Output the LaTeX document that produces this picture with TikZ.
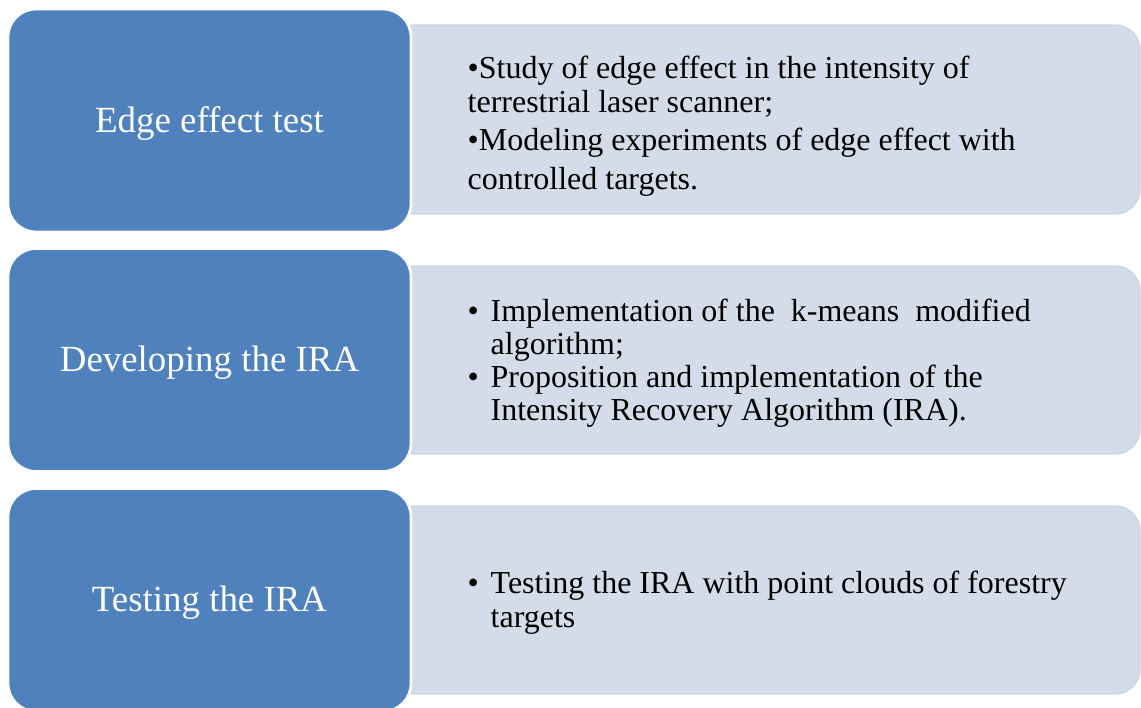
\documentclass[tikz,border=0pt]{standalone}
\usepackage{fontspec}
\setmainfont{Liberation Serif}

\begin{document}
\begin{tikzpicture}[
    stage/.style={draw=white, line width=0.8pt, fill=stage_blue, rounded corners=0.28cm,
        minimum width=4.03cm, minimum height=2.23cm, inner sep=0pt, text=white,
        text height=0.27cm, text depth=0.037cm,
        font=\fontsize{10.5}{12.6}\selectfont},
    detail/.style={fill=detail_grey, draw=detail_edge, line width=0.4pt, rounded corners=0.25cm},
    items/.style={anchor=west, align=left, inner sep=0pt, text=black,
        font=\fontsize{9.1}{9.67}\selectfont}
]
    \definecolor{stage_blue}{HTML}{4F81BD}
    \definecolor{detail_grey}{HTML}{D5DCE9}
    \definecolor{detail_edge}{HTML}{CCD5E6}
    %\draw[help lines] (0,0) grid (11.41,7.08);
    \useasboundingbox (0,0) rectangle (11.41,7.08);
    \clip (0,0) rectangle (11.41,7.08);

    \path[detail] (3.90,6.83) rectangle (11.40,4.94);
    \path[detail] (3.90,4.42) rectangle (11.40,2.54);
    \path[detail] (3.90,2.02) rectangle (11.40,0.14);

    \node[stage] (edge) at (2.095,5.875) {Edge effect test};
    \node[stage] (develop) at (2.095,3.48) {Developing the IRA};
    \node[stage] (testing) at (2.095,1.08) {Testing the IRA};

    \node[items] (edgeitems) at (4.67,5.82) {
        •Study of edge effect in the intensity of\\
        terrestrial laser scanner;\\[0.045cm]
        •Modeling experiments of edge effect with\\[0.045cm]
        controlled targets.
    };
    \node[items, font=\fontsize{9.1}{9.38}\selectfont] (developitems) at (4.67,3.445) {
        \makebox[0.23cm][l]{•}Implementation of the~~k-means~~modified\\
        \hspace*{0.23cm}algorithm;\\
        \makebox[0.23cm][l]{•}Proposition and implementation of the\\
        \hspace*{0.23cm}Intensity Recovery Algorithm (IRA).
    };
    \node[items, font=\fontsize{9.1}{9.6}\selectfont] (testingitems) at (4.67,1.055) {
        \makebox[0.23cm][l]{•}Testing the IRA with point clouds of forestry\\
        \hspace*{0.23cm}targets
    };
\end{tikzpicture}
\end{document}
